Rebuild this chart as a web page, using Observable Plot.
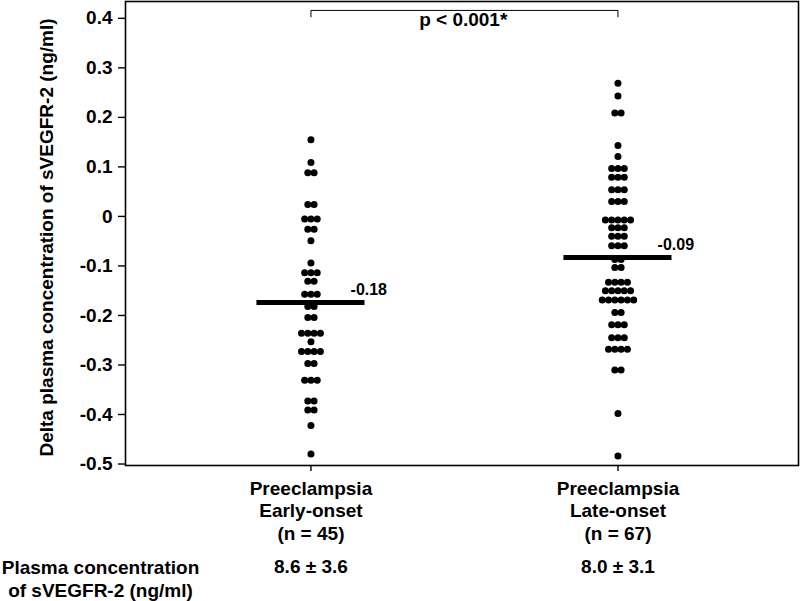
<!DOCTYPE html>
<html>
<head>
<meta charset="utf-8">
<script src="https://cdn.jsdelivr.net/npm/d3@7"></script>
<script src="https://cdn.jsdelivr.net/npm/@observablehq/plot@0.6"></script>
<style>
  html, body { margin: 0; padding: 0; background: white; }
</style>
</head>
<body>
<div id="chart"></div>
<script>
// ---- data ----
const groups = ["Preeclampsia\nEarly-onset\n(n = 45)", "Preeclampsia\nLate-onset\n(n = 67)"];

const earlyOnset = [
  0.155, 0.109, 0.088, 0.088, 0.024, 0.024,
  -0.005, -0.005, -0.005, -0.026, -0.026, -0.049, -0.094,
  -0.114, -0.114, -0.114, -0.131, -0.131, -0.157, -0.157, -0.157,
  -0.182, -0.182, -0.204, -0.204, -0.236, -0.236, -0.236, -0.236,
  -0.253, -0.273, -0.273, -0.273, -0.273, -0.297, -0.297,
  -0.331, -0.331, -0.331, -0.373, -0.373, -0.391, -0.391, -0.422, -0.480
];

const lateOnset = [
  0.269, 0.243, 0.209, 0.209, 0.143, 0.121,
  0.097, 0.097, 0.097, 0.079, 0.079, 0.079, 0.054, 0.054, 0.054,
  0.030, 0.030, 0.030, -0.007, -0.007, -0.007, -0.007, -0.007,
  -0.023, -0.023, -0.023, -0.040, -0.040, -0.040, -0.059, -0.059, -0.059,
  -0.087, -0.087, -0.103, -0.103, -0.133, -0.133, -0.133, -0.133,
  -0.150, -0.150, -0.150, -0.150, -0.150,
  -0.169, -0.169, -0.169, -0.169, -0.169, -0.169,
  -0.194, -0.194, -0.219, -0.219, -0.219, -0.245, -0.245, -0.245,
  -0.268, -0.268, -0.268, -0.268, -0.310, -0.310, -0.398, -0.484
];

const meanValues = [-0.174, -0.083];
const meanLabels = ["-0.18", "-0.09"];
const plasmaMean = ["8.6", "8.0"];
const plasmaSD = ["3.6", "3.1"];
const yTicks = [-0.5, -0.4, -0.3, -0.2, -0.1, 0, 0.1, 0.2, 0.3, 0.4];
const yTickLabels = ["-0.5", "-0.4", "-0.3", "-0.2", "-0.1", "0", "0.1", "0.2", "0.3", "0.4"];
const yLabel = "Delta plasma concentration of sVEGFR-2 (ng/ml)";
const pLabel = "p < 0.001*";
const bottomLabel = "Plasma concentration\nof sVEGFR-2 (ng/ml)";

// ---- build tables ----
const step = 0.0205; // horizontal spacing between dots in a row (x units)
const dots = [];
[earlyOnset, lateOnset].forEach((vals, i) => {
  const pos = i + 1;
  const rows = d3.group(vals, v => v);
  for (const [v, arr] of rows) {
    const n = arr.length;
    arr.forEach((_, k) => dots.push({x: pos + (k - (n - 1) / 2) * step, y: v}));
  }
});
const cats = groups.map((g, i) => ({pos: i + 1, label: g, mean: meanValues[i], meanLabel: meanLabels[i],
  plasma: `${plasmaMean[i]} ± ${plasmaSD[i]}`}));
const bracket = [{x: 1, y: 0.403}, {x: 1, y: 0.416}, {x: 2, y: 0.416}, {x: 2, y: 0.403}];

const chart = Plot.plot({
  width: 800,
  height: 601,
  marginLeft: 125,
  marginRight: 2,
  marginTop: 1,
  marginBottom: 136,
  style: {fontFamily: "'Liberation Sans', Arial, sans-serif", fontWeight: "bold", fontSize: "19px", background: "white", color: "black"},
  x: {domain: [0.396, 2.588], axis: null},
  y: {domain: [-0.503, 0.434], axis: null},
  marks: [
    Plot.frame({stroke: "black", strokeWidth: 1.6}),
    Plot.axisY({ticks: yTicks, tickFormat: (d, i) => yTickLabels[yTicks.indexOf(d)], tickSize: 7, tickPadding: 6,
      label: null, fontSize: 19, strokeWidth: 1.4}),
    Plot.axisX({ticks: [1, 2], tickFormat: () => "", tickSize: 6, label: null, strokeWidth: 1.4}),
    Plot.text([yLabel], {frameAnchor: "left", dx: -73, dy: 4, rotate: -90, textAnchor: "middle", lineAnchor: "bottom", fontSize: 19}),
    Plot.dot(dots, {x: "x", y: "y", r: 3.5, fill: "black", stroke: "none"}),
    Plot.ruleY(cats, {y: "mean", x1: d => d.pos - 0.176, x2: d => d.pos + 0.176, stroke: "black", strokeWidth: 5}),
    Plot.text(cats, {x: d => d.pos + 0.129, y: "mean", dy: -8, text: "meanLabel", textAnchor: "start", lineAnchor: "bottom", fontSize: 16}),
    Plot.line(bracket, {x: "x", y: "y", stroke: "black", strokeWidth: 1}),
    Plot.text([pLabel], {x: [1.496], y: [0.384], text: d => d, lineAnchor: "bottom", textAnchor: "middle", fontSize: 19}),
    Plot.text(cats, {x: "pos", frameAnchor: "bottom", dy: 13, text: "label", lineAnchor: "top", textAnchor: "middle", lineHeight: 1.2, fontSize: 19}),
    Plot.text(cats, {x: "pos", frameAnchor: "bottom", dy: 94, text: "plasma", lineAnchor: "top", textAnchor: "middle", fontSize: 19}),
    Plot.text([bottomLabel], {frameAnchor: "bottom-left", dx: -25, dy: 93, text: d => d, lineAnchor: "top", textAnchor: "middle", lineHeight: 1.18, fontSize: 19})
  ]
});
document.getElementById("chart").appendChild(chart);
</script>
</body>
</html>
